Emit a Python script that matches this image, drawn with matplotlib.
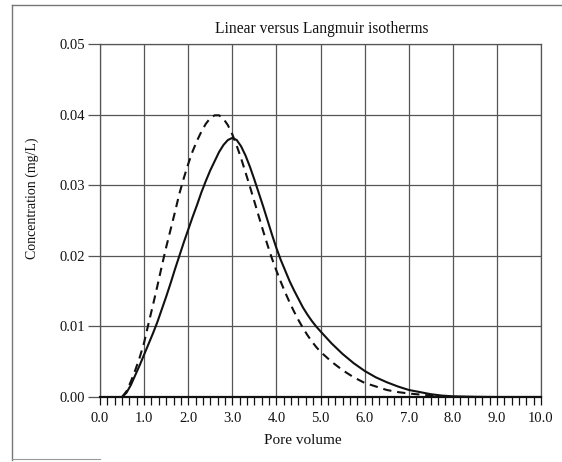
import matplotlib
matplotlib.use("Agg")
import matplotlib.pyplot as plt
from matplotlib.ticker import MultipleLocator, FormatStrFormatter
from matplotlib.lines import Line2D

# ---- data ----
title = "Linear versus Langmuir isotherms"
x_label = "Pore volume"
y_label = "Concentration (mg/L)"

solid_x = [0.5, 0.6, 0.7, 0.8, 0.9, 1.0, 1.1, 1.2, 1.3, 1.4, 1.5, 1.6, 1.7, 1.8,
           1.9, 2.0, 2.1, 2.2, 2.3, 2.4, 2.5, 2.6, 2.7, 2.8, 2.9, 3.0, 3.1, 3.2,
           3.3, 3.4, 3.5, 3.6, 3.7, 3.8, 3.9, 4.0, 4.1, 4.2, 4.3, 4.4, 4.5, 4.6,
           4.7, 4.8, 4.9, 5.0, 5.25, 5.5, 5.75, 6.0, 6.25, 6.5, 6.75, 7.0, 7.25,
           7.5, 7.75, 8.0, 8.5, 9.0, 9.5, 10.0]
solid_y = [0.0000, 0.0006, 0.0017, 0.0031, 0.0045, 0.0060, 0.0075, 0.0090,
           0.0106, 0.0124, 0.0142, 0.0161, 0.0181, 0.0200, 0.0219, 0.0237,
           0.0255, 0.0272, 0.0290, 0.0306, 0.0321, 0.0334, 0.0347, 0.0357,
           0.0364, 0.0367, 0.0364, 0.0355, 0.0342, 0.0326, 0.0308, 0.0289,
           0.0270, 0.0250, 0.0230, 0.0211, 0.0194, 0.0179, 0.0164, 0.0151,
           0.0139, 0.0127, 0.0117, 0.0108, 0.0100, 0.0093, 0.0076, 0.0061,
           0.0048, 0.0037, 0.0028, 0.0021, 0.0015, 0.0010, 0.0007, 0.0004,
           0.0002, 0.0001, 0.00003, 0.0, 0.0, 0.0]

dashed_x = [0.5, 0.6, 0.7, 0.8, 0.9, 1.0, 1.1, 1.2, 1.3, 1.4, 1.5, 1.6, 1.7,
            1.8, 1.9, 2.0, 2.1, 2.2, 2.3, 2.4, 2.5, 2.6, 2.7, 2.8, 2.9, 3.0,
            3.1, 3.2, 3.3, 3.4, 3.5, 3.6, 3.7, 3.8, 3.9, 4.0, 4.1, 4.2, 4.3,
            4.4, 4.5, 4.6, 4.7, 4.8, 4.9, 5.0, 5.25, 5.5, 5.75, 6.0, 6.25, 6.5,
            6.75, 7.0, 7.5, 8.0]
dashed_y = [0.0000, 0.0008, 0.0022, 0.0038, 0.0056, 0.0077, 0.0104, 0.0130,
            0.0157, 0.0185, 0.0212, 0.0237, 0.0262, 0.0288, 0.0310, 0.0330,
            0.0348, 0.0363, 0.0376, 0.0387, 0.0395, 0.0399, 0.0399, 0.0394,
            0.0385, 0.0372, 0.0356, 0.0338, 0.0318, 0.0298, 0.0277, 0.0256,
            0.0235, 0.0215, 0.0196, 0.0179, 0.0163, 0.0148, 0.0134, 0.0121,
            0.0109, 0.0098, 0.0088, 0.0079, 0.0071, 0.0064, 0.0050, 0.0038,
            0.0028, 0.0020, 0.0015, 0.0010, 0.0007, 0.0005, 0.0002, 0.00005]

x_ticks = [0, 1, 2, 3, 4, 5, 6, 7, 8, 9, 10]
y_ticks = [0.00, 0.01, 0.02, 0.03, 0.04, 0.05]

# ---- style ----
plt.rcParams['font.family'] = ['Liberation Serif', 'DejaVu Serif']
ink = "#111111"
grid_c = "#555555"

fig = plt.figure(figsize=(5.62, 4.62), dpi=100)
ax = fig.add_axes([100/562, 1 - 397/462, 441/562, 353/462])

ax.plot(solid_x, solid_y, color=ink, lw=1.5, solid_joinstyle='round',
        solid_capstyle='round', zorder=3)
ax.plot(dashed_x, dashed_y, color=ink, lw=1.5, linestyle=(0, (4.0, 2.8)),
        dash_joinstyle='round', zorder=3)

ax.set_xlim(0, 10)
ax.set_ylim(0, 0.05)
ax.set_xticks(x_ticks)
ax.set_yticks(y_ticks)
ax.xaxis.set_major_formatter(FormatStrFormatter('%.1f'))
ax.yaxis.set_major_formatter(FormatStrFormatter('%.2f'))
ax.xaxis.set_minor_locator(MultipleLocator(1/6))

ax.grid(True, which='major', color=grid_c, lw=0.9)
ax.set_axisbelow(True)

for s in ['top', 'right', 'left']:
    ax.spines[s].set_color(grid_c)
    ax.spines[s].set_linewidth(0.9)
ax.spines['bottom'].set_color(ink)
ax.spines['bottom'].set_linewidth(1.6)

ax.tick_params(axis='x', which='both', direction='out', length=6, width=0.9,
               color=ink, labelsize=10.5, labelcolor=ink, pad=5)
ax.tick_params(axis='y', which='major', direction='out', length=9, width=0.9,
               color=grid_c, labelsize=10.5, labelcolor=ink, pad=2)

fig.text(322/562, 1 - 29/462, title, fontsize=11.2, color=ink,
         ha='center', va='center')
fig.text(303/562, 1 - 440/462, x_label, fontsize=11, color=ink,
         ha='center', va='center')
fig.text(32/562, 1 - 198/462, y_label, fontsize=10, color=ink,
         ha='center', va='center', rotation=90)

# scanned page frame
fig.add_artist(Line2D([12/562, 12/562], [1 - 460/462, 1 - 5/462],
                      transform=fig.transFigure, color="#777777", lw=1.0))
fig.add_artist(Line2D([12/562, 1.0], [1 - 5/462, 1 - 5/462],
                      transform=fig.transFigure, color="#777777", lw=1.0))
fig.add_artist(Line2D([12/562, 100/562], [1 - 459/462, 1 - 459/462],
                      transform=fig.transFigure, color="#999999", lw=0.8))

fig.savefig("out.png", dpi=100)
